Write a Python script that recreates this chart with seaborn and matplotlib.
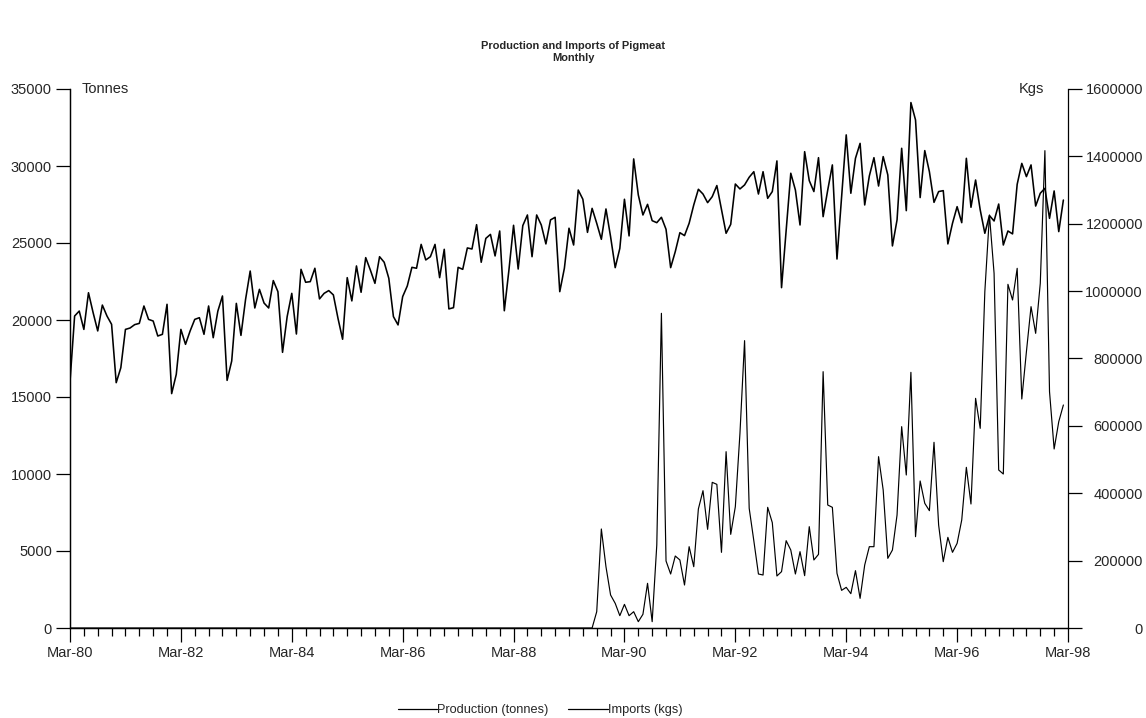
import numpy as np
import pandas as pd
import matplotlib
matplotlib.use("Agg")
import matplotlib.pyplot as plt
import seaborn as sns

# ---------------- data (monthly, Mar-80 .. Feb-98) ----------------
production = [
    16000, 20260, 20580, 19390, 21770, 20480, 19290, 20970, 20260, 19720, 15930, 16900,
    19390, 19480, 19700, 19780, 20910, 20040, 19935, 18960, 19070, 21020, 15220, 16470,
    19390, 18420, 19290, 20040, 20150, 19070, 20910, 18850, 20580, 21560, 16080, 17340,
    21080, 19000, 21340, 23180, 20780, 21990, 21100, 20780, 22560, 21840, 17900, 20220,
    21730, 19090, 23290, 22450, 22490, 23360, 21370, 21730, 21910, 21630, 20110, 18750,
    22750, 21240, 23510, 21800, 24050, 23250, 22380, 24110, 23750, 22710, 20220, 19680,
    21520, 22210, 23420, 23360, 24910, 23900, 24110, 24910, 22750, 24590, 20720, 20800,
    23420, 23290, 24680, 24610, 26190, 23750, 25300, 25560, 24160, 25780, 20600, 23250,
    26150, 23310, 26130, 26820, 24110, 26820, 26170, 24940, 26500, 26670, 21840, 23360,
    25960, 24870, 28440, 27840, 25690, 27250, 26280, 25240, 27210, 25410, 23400, 24650,
    27840, 25460, 30460, 28120, 26820, 27510, 26450, 26320, 26670, 25890, 23400, 24440,
    25670, 25480, 26280, 27470, 28490, 28180, 27620, 28010, 28730, 27190, 25630, 26210,
    28830, 28510, 28770, 29270, 29630, 28180, 29630, 27900, 28340, 30330, 22100, 25850,
    29530, 28440, 26170, 30930, 29050, 28340, 30540, 26710, 28440, 30070, 23960, 28010,
    32020, 28230, 30500, 31470, 27470, 29350, 30540, 28700, 30610, 29420, 24810, 26500,
    31150, 27100, 34120, 32990, 27950, 31000, 29630, 27640, 28340, 28400, 24940, 26280,
    27360, 26320, 30500, 27320, 29090, 27150, 25630, 26780, 26430, 27530, 24870, 25780,
    25590, 28810, 30170, 29310, 30070, 27400, 28230, 28550, 26600, 28380, 25740, 27790,
]

imports_before_jul89 = [0] * 114
imports_from_jul89 = [
    48400, 293900, 182000, 98000, 73200, 36600, 70200, 36600, 48400, 18800, 40600, 132600,
    18800, 246400, 934100, 198900, 160300, 213700, 201900, 127600, 241400, 182000, 353300, 407600,
    292900, 432400, 426400, 224600, 523400, 278000, 360100, 577900, 853000, 355200, 259200, 160300,
    157300, 358200, 312700, 154400, 167300, 259200, 231500, 160300, 226600, 155400, 300800, 201900,
    218600, 760900, 365100, 358200, 162300, 111800, 120700, 101900, 170200, 88000, 187000, 241400,
    241400, 508600, 409700, 206800, 231500, 335400, 597700, 454200, 758900, 271100, 436400, 370100,
    348300, 551200, 305800, 196900, 269100, 224600, 251300, 320600, 476900, 368100, 681700, 592700,
    998400, 1226000, 1052800, 469000, 457100, 1020200, 973700, 1067700, 679800, 820300, 953900, 874700,
    1023100, 1417000, 701600, 531400, 612500, 662000,
]
imports = imports_before_jul89 + imports_from_jul89

x_tick_labels = ["Mar-80", "Mar-82", "Mar-84", "Mar-86", "Mar-88",
                 "Mar-90", "Mar-92", "Mar-94", "Mar-96", "Mar-98"]
left_ticks = [0, 5000, 10000, 15000, 20000, 25000, 30000, 35000]
right_ticks = [0, 200000, 400000, 600000, 800000, 1000000, 1200000, 1400000, 1600000]

title = "Production and Imports of Pigmeat\nMonthly"
prod_label = "Production (tonnes)"
imp_label = "Imports (kgs)"

# ---------------- plotting ----------------
sns.set_style("ticks")
plt.rcParams['font.family'] = ['Liberation Sans', 'DejaVu Sans']

df = pd.DataFrame({"month": np.arange(len(production)),
                   prod_label: production,
                   imp_label: imports})

W, H = 1146, 718
fig = plt.figure(figsize=(W / 100, H / 100), dpi=100)
ax = fig.add_axes([70 / W, 1 - 628 / H, 998 / W, 539 / H])
ax2 = ax.twinx()

sns.lineplot(data=df, x="month", y=prod_label, ax=ax, color="black",
             linewidth=1.15, label=prod_label, legend=False)
sns.lineplot(data=df, x="month", y=imp_label, ax=ax2, color="black",
             linewidth=0.85, label=imp_label, legend=False)

n_months = 12 * 2 * (len(x_tick_labels) - 1)
ax.set_xlim(0, n_months)
ax.set_ylim(left_ticks[0], left_ticks[-1])
ax2.set_ylim(right_ticks[0], right_ticks[-1])

ax.set_xticks(np.arange(len(x_tick_labels)) * 24)
ax.set_xticklabels(x_tick_labels)
ax.set_xticks(np.arange(0, n_months + 1, 3), minor=True)
ax.set_yticks(left_ticks)
ax.set_yticklabels([str(v) for v in left_ticks])
ax2.set_yticks(right_ticks)
ax2.set_yticklabels([str(v) for v in right_ticks])
plt.setp(ax2.get_yticklabels(), ha="right")

for a in (ax, ax2):
    a.set_xlabel("")
    a.set_ylabel("")
    a.spines["top"].set_visible(False)
    for s in a.spines.values():
        s.set_color("black")
        s.set_linewidth(0.9)
ax.spines["right"].set_visible(False)

ax.tick_params(axis="x", which="major", direction="out", length=10, width=0.9,
               color="black", labelsize=10.5, pad=3)
ax.tick_params(axis="x", which="minor", direction="out", length=6, width=0.9,
               color="black")
ax.tick_params(axis="y", direction="out", length=10, width=0.9, color="black",
               labelsize=10.5, pad=3)
ax2.tick_params(axis="y", direction="out", length=10, width=0.9, color="black",
                labelsize=10.5, pad=44)

ax.text(0.012, 1.0, "Tonnes", transform=ax.transAxes, ha="left", va="center",
        fontsize=10.5)
ax.text(0.976, 1.0, "Kgs", transform=ax.transAxes, ha="right", va="center",
        fontsize=10.5)

fig.text(0.5, 1 - 52 / H, title, ha="center", va="center", fontsize=7.9,
         fontweight="bold", linespacing=1.3)

h1, l1 = ax.get_legend_handles_labels()
h2, l2 = ax2.get_legend_handles_labels()
leg = fig.legend(h1 + h2, l1 + l2, loc="center", bbox_to_anchor=(540 / W, 1 - 710 / H),
                 ncol=2, frameon=False, fontsize=9.2, handlelength=3.1,
                 handletextpad=0.0, columnspacing=1.5)
for line in leg.get_lines():
    line.set_linewidth(0.9)

fig.savefig("out.png", dpi=100)
